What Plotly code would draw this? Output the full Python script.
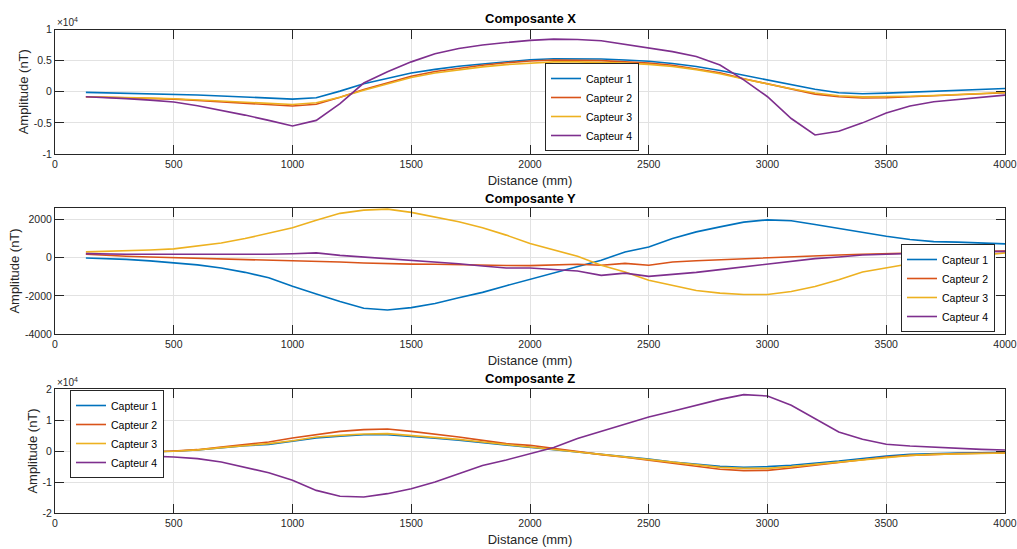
import plotly.graph_objects as go

# ---------------- data ----------------
distance = [130, 200, 300, 400, 500, 600, 700, 800, 900, 1000,
            1100, 1200, 1300, 1400, 1500, 1600, 1700, 1800, 1900, 2000,
            2100, 2200, 2300, 2400, 2500, 2600, 2700, 2800, 2900, 3000,
            3100, 3200, 3300, 3400, 3500, 3600, 3700, 3800, 3900, 4000]

sensor_names = ["Capteur 1", "Capteur 2", "Capteur 3", "Capteur 4"]
sensor_colors = ["#0072BD", "#D95319", "#EDB120", "#7E2F8E"]

# Composante X (nT)
x_c1 = [-100, -150, -220, -300, -380, -520, -680, -850, -1000, -1180,
        -970, 100, 1300, 2150, 3000, 3600, 4100, 4450, 4850, 5150,
        5300, 5300, 5250, 5100, 4900, 4550, 4050, 3400, 2650, 1900,
        1100, 400, -150, -320, -220, -50, 130, 260, 380, 520]
x_c2 = [-800, -850, -950, -1050, -1180, -1400, -1600, -1850, -2100, -2300,
        -2000, -900, 350, 1450, 2500, 3250, 3800, 4250, 4650, 4950,
        5100, 5050, 5000, 4800, 4600, 4250, 3700, 3050, 2100, 1250,
        400, -380, -800, -1000, -970, -800, -650, -480, -320, -160]
x_c3 = [-800, -830, -920, -1020, -1130, -1300, -1500, -1700, -1900, -2050,
        -1780, -900, 250, 1250, 2300, 3000, 3550, 4000, 4350, 4600,
        4800, 4800, 4750, 4600, 4400, 4050, 3550, 2900, 2050, 1250,
        480, -200, -650, -820, -820, -720, -600, -450, -300, -120]
x_c4 = [-800, -900, -1100, -1350, -1650, -2250, -2950, -3750, -4600, -5500,
        -4600, -1900, 1400, 3200, 4800, 6100, 6950, 7500, 7900, 8250,
        8450, 8400, 8200, 7650, 7100, 6450, 5650, 4300, 1900, -800,
        -4300, -6950, -6350, -5000, -3400, -2300, -1600, -1250, -850, -550]

# Composante Y (nT)
y_c1 = [-20, -40, -90, -170, -260, -380, -540, -770, -1050, -1500,
        -1900, -2300, -2650, -2740, -2620, -2400, -2100, -1820, -1470, -1140,
        -810, -460, -140, 300, 560, 1000, 1350, 1610, 1860, 1980,
        1930, 1740, 1530, 1300, 1120, 950, 840, 810, 770, 720]
y_c2 = [180, 130, 70, 30, 0, -30, -70, -90, -110, -140,
        -180, -230, -280, -320, -340, -350, -380, -400, -410, -420,
        -380, -350, -400, -300, -400, -230, -160, -105, -50, 0,
        50, 105, 140, 175, 210, 250, 280, 300, 330, 350]
y_c3 = [300, 320, 350, 400, 460, 600, 770, 1000, 1260, 1560,
        1960, 2320, 2490, 2540, 2370, 2140, 1880, 1560, 1180, 740,
        390, 70, -400, -750, -1190, -1460, -1720, -1860, -1930, -1930,
        -1770, -1510, -1160, -750, -530, -320, -140, 0, 120, 250]
y_c4 = [210, 190, 175, 175, 175, 150, 140, 150, 175, 200,
        250, 120, 35, -50, -140, -210, -320, -440, -540, -540,
        -610, -700, -930, -810, -980, -880, -770, -630, -490, -350,
        -175, -50, 35, 140, 175, 230, 260, 280, 300, 330]

# Composante Z (nT)
z_c1 = [-540, -500, -350, -200, -100, 300, 1000, 1700, 2150, 3100,
        4200, 4800, 5250, 5250, 4750, 4100, 3450, 2700, 1850, 1200,
        430, -300, -950, -1700, -2600, -3550, -4300, -4950, -5250, -5050,
        -4600, -4000, -3250, -2400, -1600, -1100, -800, -650, -550, -450]
z_c2 = [-860, -750, -540, -300, 0, 430, 1290, 2040, 2900, 4190,
        5270, 6340, 6880, 7100, 6340, 5480, 4520, 3440, 2370, 1830,
        750, -320, -1180, -2040, -3010, -4090, -5160, -5910, -6340, -6240,
        -5480, -4620, -3760, -2800, -1940, -1400, -1075, -860, -750, -650]
z_c3 = [-650, -600, -430, -250, -100, 350, 1075, 1700, 2370, 3330,
        4520, 5050, 5480, 5590, 5050, 4410, 3760, 2900, 2040, 1400,
        540, -320, -1075, -1940, -2800, -3760, -4620, -5270, -5590, -5590,
        -5050, -4300, -3550, -2690, -1940, -1400, -1075, -860, -750, -650]
z_c4 = [-1180, -1250, -1400, -1650, -1940, -2470, -3550, -5160, -7000, -9460,
        -12700, -14600, -14840, -13760, -12150, -10000, -7310, -4700, -2900, -900,
        1100, 4000, 6340, 8490, 10970, 12800, 14730, 16660, 18170, 17740,
        14730, 10430, 6130, 3760, 2150, 1610, 1180, 860, 540, 320]

panels = [
    ("Composante X", [x_c1, x_c2, x_c3, x_c4]),
    ("Composante Y", [y_c1, y_c2, y_c3, y_c4]),
    ("Composante Z", [z_c1, z_c2, z_c3, z_c4]),
]

x_ticks = [0, 500, 1000, 1500, 2000, 2500, 3000, 3500, 4000]
x_tick_text = ["0", "500", "1000", "1500", "2000", "2500", "3000", "3500", "4000"]
yx_ticks = [-10000, -5000, 0, 5000, 10000]
yx_text = ["-1", "-0.5", "0", "0.5", "1"]
yy_ticks = [-4000, -2000, 0, 2000]
yy_text = ["-4000", "-2000", "0", "2000"]
yz_ticks = [-20000, -10000, 0, 10000, 20000]
yz_text = ["-2", "-1", "0", "1", "2"]

# ---------------- figure ----------------
FONT = "Liberation Sans, Arial, Helvetica, sans-serif"
AX = "#262626"
fig = go.Figure()

legend_ids = ["legend", "legend2", "legend3"]
for p, (title, series) in enumerate(panels):
    xa = "x" if p == 0 else f"x{p+1}"
    ya = "y" if p == 0 else f"y{p+1}"
    for name, color, vals in zip(sensor_names, sensor_colors, series):
        fig.add_trace(go.Scatter(
            x=distance, y=vals, name=name, mode="lines",
            line=dict(color=color, width=1.6),
            xaxis=xa, yaxis=ya, legend=legend_ids[p], showlegend=True))

H_PLOT = 549 - 29 - 36
def dom(top_px, bot_px):
    return [(513 - bot_px) / H_PLOT, (513 - top_px) / H_PLOT]

domains = [dom(29.5, 154), dom(208, 334), dom(389, 513)]

common_axis = dict(showline=True, linecolor=AX, linewidth=1, mirror="ticks",
                   ticks="inside", ticklen=9, tickcolor=AX, tickwidth=1,
                   showgrid=True, gridcolor="#e2e2e2", gridwidth=1,
                   zeroline=False, automargin=False,
                   tickfont=dict(family=FONT, size=10.5, color=AX))

y_specs = [
    dict(range=[-10000, 10000], tickvals=yx_ticks, ticktext=yx_text),
    dict(range=[-4000, 2600], tickvals=yy_ticks, ticktext=yy_text),
    dict(range=[-20000, 20000], tickvals=yz_ticks, ticktext=yz_text),
]

layout_axes = {}
for p in range(3):
    xk = "xaxis" if p == 0 else f"xaxis{p+1}"
    yk = "yaxis" if p == 0 else f"yaxis{p+1}"
    xa = "x" if p == 0 else f"x{p+1}"
    ya = "y" if p == 0 else f"y{p+1}"
    layout_axes[xk] = dict(common_axis, domain=[0, 1], anchor=ya,
                           range=[0, 4000], tickvals=x_ticks, ticktext=x_tick_text,
                           title=dict(text="Distance (mm)", standoff=7,
                                      font=dict(family=FONT, size=13, color=AX)))
    layout_axes[yk] = dict(common_axis, domain=domains[p], anchor=xa,
                           title=dict(text="Amplitude (nT)", standoff=2,
                                      font=dict(family=FONT, size=13, color=AX)),
                           **y_specs[p])

legend_style = dict(bgcolor="white", bordercolor=AX, borderwidth=1,
                    font=dict(family=FONT, size=10.5, color="#000000"),
                    xanchor="left", tracegroupgap=0, itemwidth=30)

def py(px):
    return (513 - px) / H_PLOT

def px_x(px):
    return (px - 55) / 950

annotations = []
for title, ypx in [("Composante X", 18), ("Composante Y", 198), ("Composante Z", 379)]:
    annotations.append(dict(text=f"<b>{title}</b>", x=0.5, y=py(ypx),
                            xref="paper", yref="paper", showarrow=False,
                            xanchor="center", yanchor="middle",
                            font=dict(family=FONT, size=13, color="#000000")))
for ypx in [22, 382]:
    annotations.append(dict(text="×10<sup>4</sup>", x=0, y=py(ypx),
                            xref="paper", yref="paper", showarrow=False,
                            xanchor="left", yanchor="middle",
                            font=dict(family=FONT, size=10, color=AX)))

fig.update_layout(
    width=1017, height=549,
    margin=dict(l=55, r=12, t=29, b=36),
    paper_bgcolor="white", plot_bgcolor="white",
    font=dict(family=FONT, color=AX),
    showlegend=True,
    legend=dict(legend_style, x=px_x(545), y=py(151), yanchor="bottom"),
    legend2=dict(legend_style, x=px_x(901), y=py(332), yanchor="bottom"),
    legend3=dict(legend_style, x=px_x(70), y=py(390), yanchor="top"),
    annotations=annotations,
    **layout_axes,
)

# remove the default 8px page margin so the figure sits at the window origin
fig.write_html("out.html",
               config={"displayModeBar": False},
               post_script="document.body.style.margin='0px';"
                           "document.body.style.overflow='hidden';")
